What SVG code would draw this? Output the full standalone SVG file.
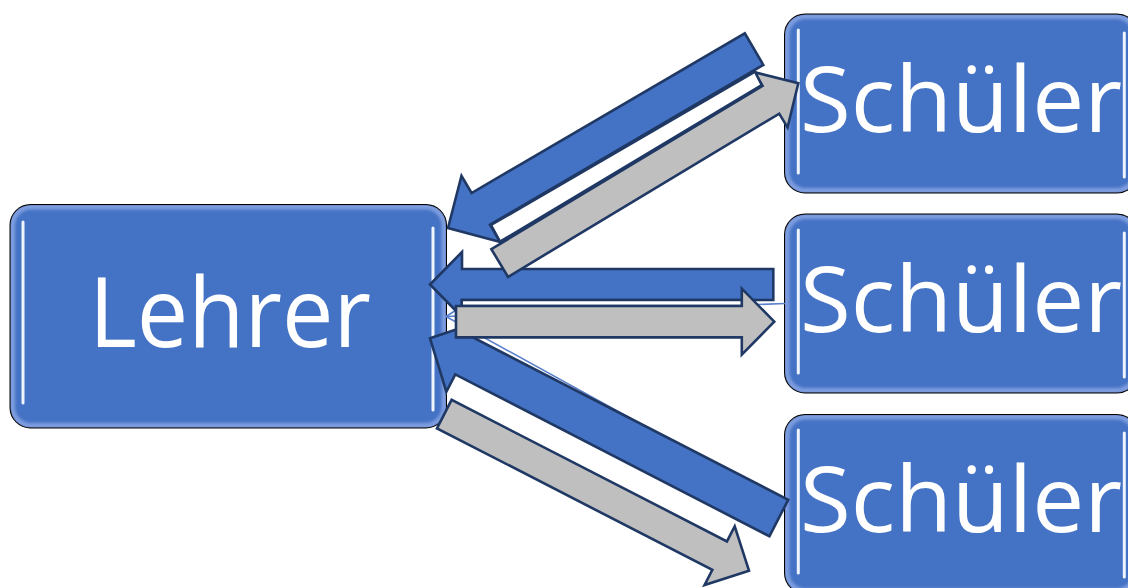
<svg xmlns="http://www.w3.org/2000/svg" width="1128" height="588" viewBox="0 0 1128 588">
  <style>
    .box { fill: #4472C4; stroke: #000; stroke-width: 2; }
    .rim { fill: none; stroke: #7e9ee0; stroke-width: 6; filter: url(#soft); }
    .hl-glow { stroke: #9fbdf0; stroke-width: 9; stroke-linecap: round; filter: url(#soft); }
    .hl { stroke: #eef5ff; stroke-width: 3; stroke-linecap: round; }
    .label { font-family: "Open Sans", "Noto Sans", "Liberation Sans", sans-serif; fill: #fff; }
    .link { stroke: #5a80cc; stroke-width: 1.6; fill: none; }
    .arr { stroke: #1F3864; stroke-width: 2.6; stroke-linejoin: miter; }
    .blue { fill: #4472C4; }
    .gray { fill: #BFBFBF; }
    .gap { fill: #fff; }
  </style>
  <defs>
    <filter id="soft" x="-20%" y="-20%" width="140%" height="140%">
      <feGaussianBlur stdDeviation="1.8"/>
    </filter>
    <clipPath id="clipL"><rect x="10.5" y="205" width="435.5" height="222.5" rx="20"/></clipPath>
    <clipPath id="clipS1"><rect x="785" y="14.5" width="352" height="178" rx="20"/></clipPath>
    <clipPath id="clipS2"><rect x="785" y="214.5" width="352" height="178" rx="20"/></clipPath>
    <clipPath id="clipS3"><rect x="785" y="415" width="352" height="178" rx="20"/></clipPath>
  </defs>

  <rect width="1128" height="588" fill="#fff"/>

  <!-- teacher node -->
  <g id="lehrer">
    <rect class="box" x="10.5" y="205" width="435.5" height="222.5" rx="20"/>
    <rect class="rim" x="12" y="206.5" width="432.5" height="219.5" rx="19" clip-path="url(#clipL)"/>
    <line class="hl-glow" x1="23" y1="222" x2="23" y2="403"/>
    <line class="hl" x1="23" y1="222" x2="23" y2="403"/>
    <line class="hl-glow" x1="433" y1="228" x2="433" y2="410"/>
    <line class="hl" x1="433" y1="228" x2="433" y2="410"/>
    <text class="label" x="89" y="347" font-size="97" textLength="282" lengthAdjust="spacingAndGlyphs">Lehrer</text>
  </g>

  <!-- student nodes -->
  <g id="schueler1">
    <rect class="box" x="785" y="14.5" width="352" height="178" rx="20"/>
    <rect class="rim" x="786.5" y="16" width="349" height="175" rx="19" clip-path="url(#clipS1)"/>
    <line class="hl-glow" x1="798.3" y1="30" x2="798.3" y2="173"/>
    <line class="hl" x1="798.3" y1="30" x2="798.3" y2="173"/>
    <line class="hl-glow" x1="1124.3" y1="33" x2="1124.3" y2="177"/>
    <line class="hl" x1="1124.3" y1="33" x2="1124.3" y2="177"/>
    <text class="label" x="800" y="132" font-size="92" textLength="322" lengthAdjust="spacingAndGlyphs">Schüler</text>
  </g>
  <g id="schueler2">
    <rect class="box" x="785" y="214.5" width="352" height="178" rx="20"/>
    <rect class="rim" x="786.5" y="216" width="349" height="175" rx="19" clip-path="url(#clipS2)"/>
    <line class="hl-glow" x1="798.3" y1="230" x2="798.3" y2="373"/>
    <line class="hl" x1="798.3" y1="230" x2="798.3" y2="373"/>
    <line class="hl-glow" x1="1124.3" y1="233" x2="1124.3" y2="377"/>
    <line class="hl" x1="1124.3" y1="233" x2="1124.3" y2="377"/>
    <text class="label" x="800" y="332" font-size="92" textLength="322" lengthAdjust="spacingAndGlyphs">Schüler</text>
  </g>
  <g id="schueler3">
    <rect class="box" x="785" y="415" width="352" height="178" rx="20"/>
    <rect class="rim" x="786.5" y="416.5" width="349" height="175" rx="19" clip-path="url(#clipS3)"/>
    <line class="hl-glow" x1="798.3" y1="430" x2="798.3" y2="573"/>
    <line class="hl" x1="798.3" y1="430" x2="798.3" y2="573"/>
    <line class="hl-glow" x1="1124.3" y1="433" x2="1124.3" y2="577"/>
    <line class="hl" x1="1124.3" y1="433" x2="1124.3" y2="577"/>
    <text class="label" x="800" y="532" font-size="92" textLength="322" lengthAdjust="spacingAndGlyphs">Schüler</text>
  </g>

  <!-- connectors: thin links plus block arrows in both directions -->
  <g id="connectors">
    <line class="link" x1="446" y1="316.5" x2="785" y2="103.5"/>
    <line class="link" x1="446" y1="316.5" x2="785" y2="303.5"/>
    <line class="link" x1="446" y1="316.5" x2="785" y2="503.5"/>

    <!-- student 2 -> teacher -->
    <polygon class="arr blue" transform="translate(430,284.5)"
      points="0,0 32,-32.5 32,-15.5 343.3,-15.5 343.3,15.5 32,15.5 32,32.5"/>
    <!-- student 3 -> teacher -->
    <polygon class="arr blue" transform="translate(430,338.3) rotate(27.26)"
      points="0,0 39,-40 39,-20.5 392.4,-20.5 392.4,20.5 39,20.5 39,40"/>
    <!-- student 1 -> teacher -->
    <polygon class="arr blue" transform="translate(448,228) rotate(-30.3)"
      points="0,0 38,-38.3 38,-18.3 354.5,-18.3 354.5,18.3 38,18.3 38,38.3"/>

    <polygon class="arr gap" points="461.7,300 748,300 748,306 461.7,306"/>
    <!-- teacher -> student 2 -->
    <polygon class="arr gray" transform="translate(774.3,321.7) rotate(180)"
      points="0,0 32.5,-33 32.5,-15.7 318.3,-15.7 318.3,15.7 32.5,15.7 32.5,33"/>
    <!-- teacher -> student 1 -->
    <polygon class="arr gray" transform="translate(798.3,83.3) rotate(148.96)"
      points="0,0 32,-32.3 32,-16.2 348.5,-16.2 348.5,16.2 32,16.2 32,32.3"/>
    <polygon class="arr gap" points="491,225 755,71.7 761.7,85 500,241.7"/>
    <!-- teacher -> student 3 -->
    <polygon class="arr gray" transform="translate(749,570.7) rotate(207.2)"
      points="0,0 33,-33 33,-16 342.6,-16 342.6,16 33,16 33,33"/>
  </g>
</svg>
